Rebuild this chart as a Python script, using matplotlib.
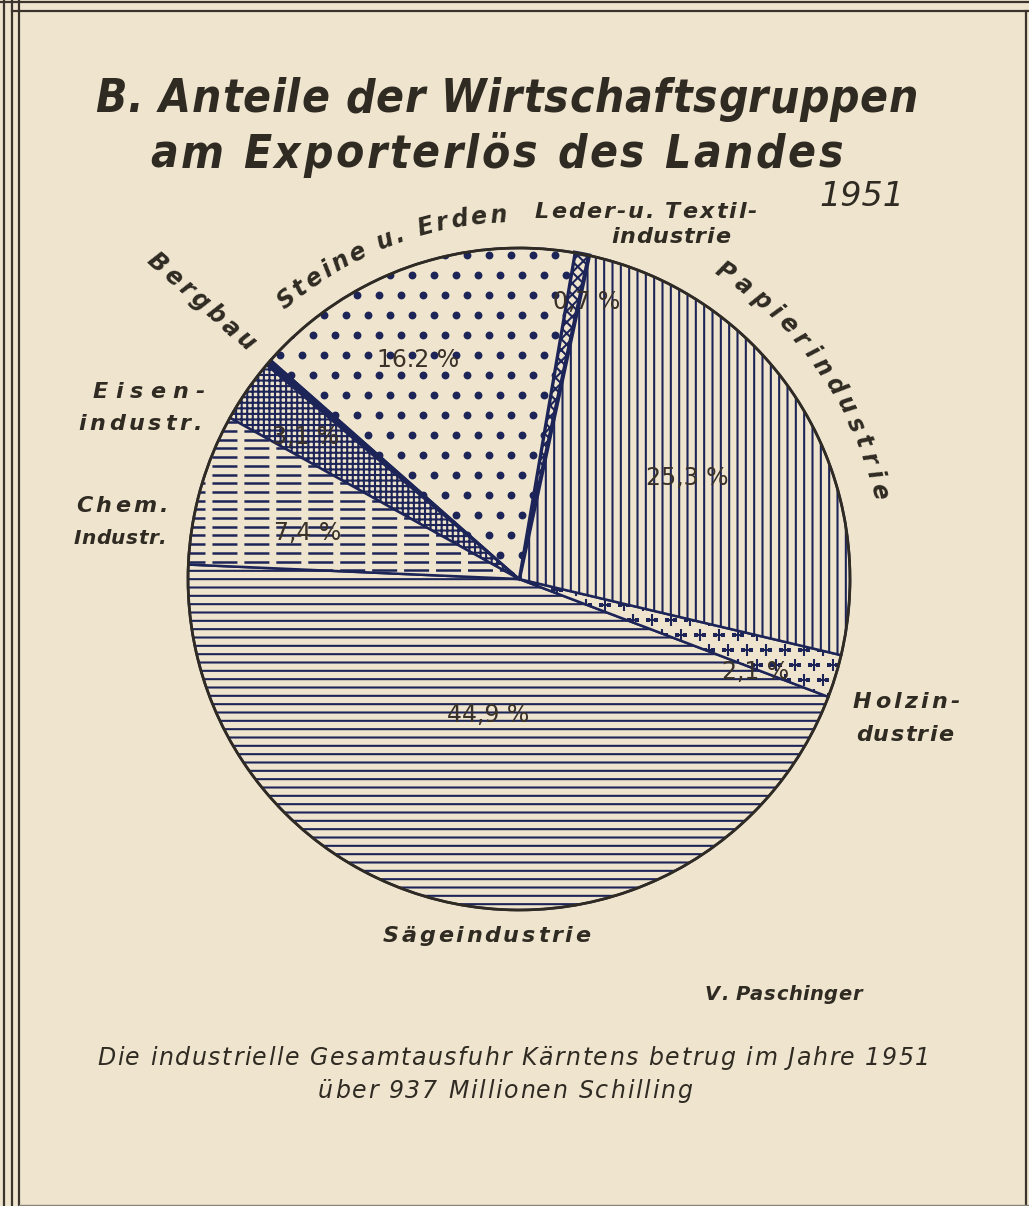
import numpy as np
import matplotlib
matplotlib.use('Agg')
import matplotlib.pyplot as plt
from matplotlib.patches import Circle
from matplotlib.lines import Line2D

plt.rcParams['font.family'] = ['DejaVu Sans']
plt.rcParams['hatch.linewidth'] = 1.5
plt.rcParams['lines.scale_dashes'] = False

W, H = 1029, 1206
PAPER = '#efe5cf'
INK = '#1d2558'
BROWN = '#2f2a22'

# Anteile am Exporterloes 1951 in Prozent, gegen den Uhrzeigersinn ab Saegeindustrie
gruppen = ['Sägeindustrie', 'Holzindustrie', 'Papierindustrie', 'Leder- u. Textilindustrie',
           'Steine u. Erden', 'Bergbau', 'Eisenindustrie', 'Chem. Industrie']
anteile = [44.9, 2.1, 25.3, 0.7, 16.2, 0.3, 3.1, 7.4]
prozent_text = ['44,9 %', '2,1 %', '25,3 %', '0,7 %', '16.2 %', '', '3,1 %', '7,4 %']

# Schraffuren / Fuellungen je Gruppe
schraffur = ['--', '', '||', 'xxx', '', '', '+++', '']
fuellung = [PAPER, PAPER, PAPER, PAPER, PAPER, INK, PAPER, PAPER]
prozent_pos = [(488, 715), (756, 672), (687, 478), (587, 302), (418, 360), None, (306, 437), (308, 533)]

cx, cy, R = 519, 579, 331

fig = plt.figure(figsize=(W / 100, H / 100), dpi=100, facecolor=PAPER)
ax = fig.add_axes([0, 0, 1, 1])
ax.set_facecolor(PAPER)

# y-Achse zeigt nach unten, daher Startwinkel und Drehsinn gespiegelt
wedges, _ = ax.pie(anteile, center=(cx, cy), radius=R, startangle=-177.5, counterclock=False,
                   colors=fuellung, hatch=schraffur,
                   wedgeprops=dict(edgecolor=INK, linewidth=1.8))
wedges[3].set_linewidth(3.0)
ax.set_xlim(0, W)
ax.set_ylim(H, 0)
ax.set_aspect('equal')
ax.axis('off')

# Steine u. Erden: Punktraster
gx, gy = np.meshgrid(np.arange(170, 640, 22.0), np.arange(235, 600, 20.0))
gx = gx + (np.arange(gx.shape[0])[:, None] % 2) * 11
pkt = ax.scatter(gx.ravel(), gy.ravel(), s=32, color=INK, linewidths=0, zorder=3)
pkt.set_clip_path(wedges[4])

# Holzindustrie: Kreuzchen
hx, hy = np.meshgrid(np.arange(500, 880, 19.0), np.arange(560, 740, 15.0))
hx = hx + (np.arange(hx.shape[0])[:, None] % 2) * 9.5
kr = ax.scatter(hx.ravel(), hy.ravel(), s=80, marker='+', color=INK, linewidths=1.5, zorder=3)
kr.set_clip_path(wedges[1])

# Chem. Industrie: gestrichelte Waagrechte
for yy in np.arange(405, 590, 8.7):
    ln, = ax.plot([180, 530], [yy, yy], color=INK, lw=1.8, dashes=(18, 5), zorder=3)
    ln.set_clip_path(wedges[7])

ax.add_patch(Circle((cx, cy), R, fill=False, ec=BROWN, lw=2.0, zorder=4))

# Prozentwerte
for txt, pos in zip(prozent_text, prozent_pos):
    if pos is None:
        continue
    ax.text(pos[0], pos[1], txt, ha='center', va='center', fontsize=17,
            color='#3a3128', zorder=6)

renderer = fig.canvas.get_renderer()
lab = dict(color=BROWN, style='oblique', fontweight='bold')


def breiten(text, size, **kw):
    out = []
    for ch in text:
        if ch == ' ':
            out.append(0.32 * size * 100 / 72)
            continue
        t = ax.text(0, 0, ch, fontsize=size, **kw)
        out.append(t.get_window_extent(renderer).width)
        t.remove()
    return np.array(out)


def gesperrt(text, x0, y0, x1, y1, size, **kw):
    # Sperrschrift: Zeichen fuellen die Strecke von (x0, y0) bis (x1, y1)
    st = dict(lab)
    st.update(kw)
    w = breiten(text, size, **st)
    L = np.hypot(x1 - x0, y1 - y0)
    ux, uy = (x1 - x0) / L, (y1 - y0) / L
    rot = np.degrees(np.arctan2(-uy, ux))
    spur = (L - w.sum()) / max(len(text) - 1, 1)
    s = 0.0
    for ch, b in zip(text, w):
        m = s + b / 2
        ax.text(x0 + m * ux, y0 + m * uy, ch, rotation=rot, rotation_mode='anchor',
                fontsize=size, ha='center', va='center', zorder=6, **st)
        s += b + spur


def bogen(text, r, a0, a1, size):
    # Schrift entlang eines Kreisbogens um die Tortenmitte, a0 -> a1 im Uhrzeigersinn
    w = breiten(text, size, **lab)
    L = np.radians(a0 - a1) * r
    spur = (L - w.sum()) / (len(text) - 1)
    s = 0.0
    for ch, b in zip(text, w):
        a = a0 - np.degrees((s + b / 2) / r)
        t = np.radians(a)
        ax.text(cx + r * np.cos(t), cy - r * np.sin(t), ch, rotation=a - 90,
                rotation_mode='anchor', fontsize=size, ha='center', va='center',
                zorder=6, **lab)
        s += b + spur


bogen('Papierindustrie', 370, 57.5, 12.5, 17)
bogen('Steine u. Erden', 364, 131.0, 92.0, 17)
gesperrt('Bergbau', 150, 257, 252, 347, 17)
gesperrt('Eisen-', 93, 392, 205, 392, 16)
gesperrt('industr.', 78, 424, 202, 424, 16)
gesperrt('Chem.', 76, 506, 168, 506, 16)
gesperrt('Industr.', 74, 538, 166, 538, 14.5)
gesperrt('Holzin-', 853, 702, 960, 702, 16)
gesperrt('dustrie', 856, 735, 953, 735, 16)
gesperrt('Sägeindustrie', 383, 936, 590, 936, 16)
gesperrt('Leder-u. Textil-', 535, 212, 757, 212, 16)
gesperrt('industrie', 611, 237, 730, 237, 16)
gesperrt('V. Paschinger', 705, 995, 862, 995, 14)

# Unterschrift
gesperrt('Die industrielle Gesamtausfuhr Kärntens betrug im Jahre 1951',
         97, 1058, 930, 1058, 17, fontweight='normal')
gesperrt('über 937 Millionen Schilling', 318, 1091, 692, 1091, 17, fontweight='normal')

# Titel
gesperrt('B. Anteile der Wirtschaftsgruppen', 95, 100, 918, 100, 33, fontstretch='condensed')
gesperrt('am Exporterlös des Landes', 150, 155, 843, 155, 33, fontstretch='condensed')
ax.text(862, 197, '1951', fontsize=24, color=BROWN, style='oblique', ha='center', va='center')

# Rahmen
for x in (4, 11.5, 19):
    fig.add_artist(Line2D([x / W, x / W], [0, 1], color='#3a342c', lw=1.6))
fig.add_artist(Line2D([0, 1], [1 - 1.5 / H, 1 - 1.5 / H], color='#3a342c', lw=1.6))
fig.add_artist(Line2D([11.5 / W, 1], [1 - 11 / H, 1 - 11 / H], color='#3a342c', lw=1.6))
fig.add_artist(Line2D([1025.5 / W, 1025.5 / W], [0, 1 - 11 / H], color='#3a342c', lw=1.6))
fig.add_artist(Line2D([19 / W, 1], [1.5 / H, 1.5 / H], color='#8a8378', lw=1.0))

fig.savefig('out.png', dpi=100, facecolor=PAPER)
